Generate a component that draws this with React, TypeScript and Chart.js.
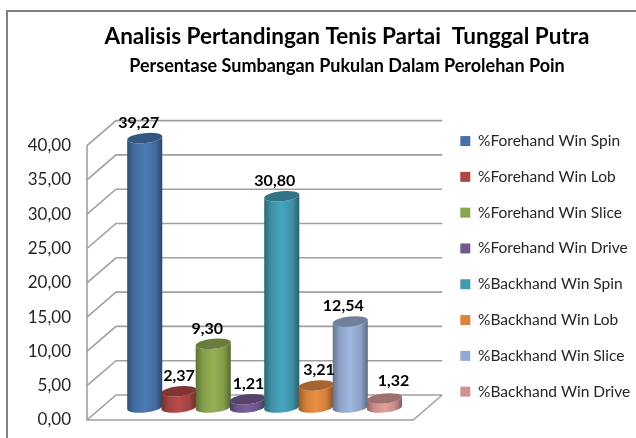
import React, { useEffect, useRef } from "react";
import { Chart, registerables } from "chart.js";

Chart.register(...registerables);

const categories = [""];
const seriesNames = [
  "%Forehand Win Spin",
  "%Forehand Win Lob",
  "%Forehand Win Slice",
  "%Forehand Win Drive",
  "%Backhand Win Spin",
  "%Backhand Win Lob",
  "%Backhand Win Slice",
  "%Backhand Win Drive",
];
const seriesValues = [39.27, 2.37, 9.3, 1.21, 30.8, 3.21, 12.54, 1.32];
const seriesColors = ["#4572A7", "#AA4643", "#89A54E", "#71588F", "#4198AF", "#DB843D", "#93A9CF", "#D19392"];
const labelNudgeX = [-6, 0, -6, 1, -7, 3, -7, 9];
const labelNudgeY = [0, 0, 0, 0, 0, 0, 0, -2];
const yTicks = { min: 0, max: 40, step: 5 };
const FONT = "Lato, 'Open Sans', sans-serif";
const DEPTH_X = 29;
const DEPTH_Y = 25;
const TILT = -0.1;

function shade(hex: string, f: number) {
  const n = parseInt(hex.slice(1), 16);
  const c = (s: number) => Math.min(255, Math.round(((n >> s) & 255) * f));
  return `rgb(${c(16)},${c(8)},${c(0)})`;
}
const fmt = (v: number) => v.toFixed(2).replace(".", ",");

const depthPlugin = {
  id: "depth",
  afterLayout(chart: any) {
    const lg = chart.legend;
    lg.left = 440;
    lg.right = 636;
    lg.width = lg.right - lg.left;
    const h = lg.height;
    lg.top = 113;
    lg.bottom = lg.top + h;
    chart.boxes
      .filter((b: any) => b.position === "top")
      .forEach((b: any) => {
        b.left = 58;
        b.right = 636;
        b.width = 578;
      });
  },
  beforeDatasetsDraw(chart: any) {
    const { ctx, chartArea: a, scales } = chart;
    const y = scales.y;
    ctx.save();
    ctx.strokeStyle = "#A0A0A0";
    ctx.lineWidth = 1.6;
    ctx.beginPath();
    for (let v = yTicks.min; v <= yTicks.max; v += yTicks.step) {
      const py = y.getPixelForValue(v);
      ctx.moveTo(a.left, py);
      ctx.lineTo(a.left + DEPTH_X, py - DEPTH_Y);
      ctx.lineTo(a.right + DEPTH_X, py - DEPTH_Y);
    }
    ctx.moveTo(a.left, a.top);
    ctx.lineTo(a.left, a.bottom);
    ctx.lineTo(a.right, a.bottom);
    ctx.lineTo(a.right + DEPTH_X, a.bottom - DEPTH_Y);
    ctx.stroke();

    chart.data.datasets.forEach((ds: any, i: number) => {
      const bar = chart.getDatasetMeta(i).data[0];
      const color = ds.backgroundColor as string;
      const cx = bar.x + DEPTH_X / 2;
      const rx = (bar.width + 1) / 2;
      const ry = 5;
      const topY = bar.y - DEPTH_Y / 2;
      const baseY = bar.base - DEPTH_Y / 2;
      const g = ctx.createLinearGradient(cx - rx, 0, cx + rx, 0);
      g.addColorStop(0, shade(color, 0.68));
      g.addColorStop(0.2, shade(color, 0.95));
      g.addColorStop(0.5, shade(color, 1.08));
      g.addColorStop(0.8, shade(color, 0.95));
      g.addColorStop(1, shade(color, 0.62));
      ctx.fillStyle = g;
      ctx.beginPath();
      ctx.ellipse(cx, topY, rx, ry, TILT, Math.PI, 0, true);
      ctx.ellipse(cx, baseY, rx, ry, TILT, 0, Math.PI, false);
      ctx.closePath();
      ctx.fill();
      ctx.fillStyle = shade(color, 0.76);
      ctx.beginPath();
      ctx.ellipse(cx, topY, rx, ry, TILT, 0, Math.PI * 2);
      ctx.fill();
    });
    ctx.restore();
  },
  beforeDatasetDraw() {
    return false;
  },
  afterDatasetsDraw(chart: any) {
    const { ctx } = chart;
    ctx.save();
    ctx.font = `bold 16px ${FONT}`;
    ctx.fillStyle = "#000000";
    ctx.textAlign = "center";
    ctx.textBaseline = "alphabetic";
    chart.data.datasets.forEach((ds: any, i: number) => {
      const bar = chart.getDatasetMeta(i).data[0];
      ctx.fillText(
        fmt(ds.data[0]),
        bar.x + DEPTH_X / 2 + labelNudgeX[i],
        bar.y - DEPTH_Y / 2 - 10 + labelNudgeY[i]
      );
    });
    ctx.restore();
  },
};

const framePlugin = {
  id: "frame",
  beforeDraw(chart: any) {
    const { ctx } = chart;
    ctx.save();
    ctx.strokeStyle = "#808080";
    ctx.lineWidth = 2;
    ctx.beginPath();
    ctx.moveTo(7, 438);
    ctx.lineTo(7, 11);
    ctx.lineTo(636, 11);
    ctx.stroke();
    ctx.restore();
  },
};

export default function App() {
  const ref = useRef<HTMLCanvasElement>(null);
  useEffect(() => {
    document.body.style.margin = "0";
    const chart = new Chart(ref.current!, {
      type: "bar",
      data: {
        labels: categories,
        datasets: seriesNames.map((name, i) => ({
          label: name,
          data: [seriesValues[i]],
          backgroundColor: seriesColors[i],
          barPercentage: 1,
          categoryPercentage: 0.84,
        })),
      },
      options: {
        responsive: false,
        animation: false,
        layout: { padding: { left: 0, right: 85, top: 23, bottom: 18 } },
        plugins: {
          title: {
            display: true,
            text: "Analisis Pertandingan Tenis Partai  Tunggal Putra",
            color: "#000000",
            font: { family: FONT, size: 22.5, weight: "bold" },
            padding: { top: 0, bottom: 0 },
          },
          subtitle: {
            display: true,
            text: "Persentase Sumbangan Pukulan Dalam Perolehan Poin",
            color: "#000000",
            font: { family: FONT, size: 18, weight: "bold" },
            padding: { top: 5, bottom: 69 },
          },
          legend: {
            position: "right",
            align: "start",
            labels: {
              boxWidth: 10,
              boxHeight: 10,
              padding: 20.3,
              color: "#262626",
              font: { family: FONT, size: 15.5 },
            },
          },
          tooltip: { enabled: false },
        },
        scales: {
          x: { display: false, grid: { display: false } },
          y: {
            min: yTicks.min,
            max: yTicks.max,
            grid: { display: false, tickLength: 0, drawTicks: false },
            border: { display: false },
            afterFit: (s: any) => {
              s.width = 87;
              s.paddingTop = 0;
              s.paddingBottom = 0;
            },
            ticks: {
              stepSize: yTicks.step,
              color: "#262626",
              padding: 16,
              font: { family: FONT, size: 17 },
              callback: (v: any) => fmt(Number(v)),
            },
          },
        },
      },
      plugins: [framePlugin, depthPlugin],
    } as any);
    return () => chart.destroy();
  }, []);
  return <canvas ref={ref} width={636} height={438} style={{ display: "block" }} />;
}
